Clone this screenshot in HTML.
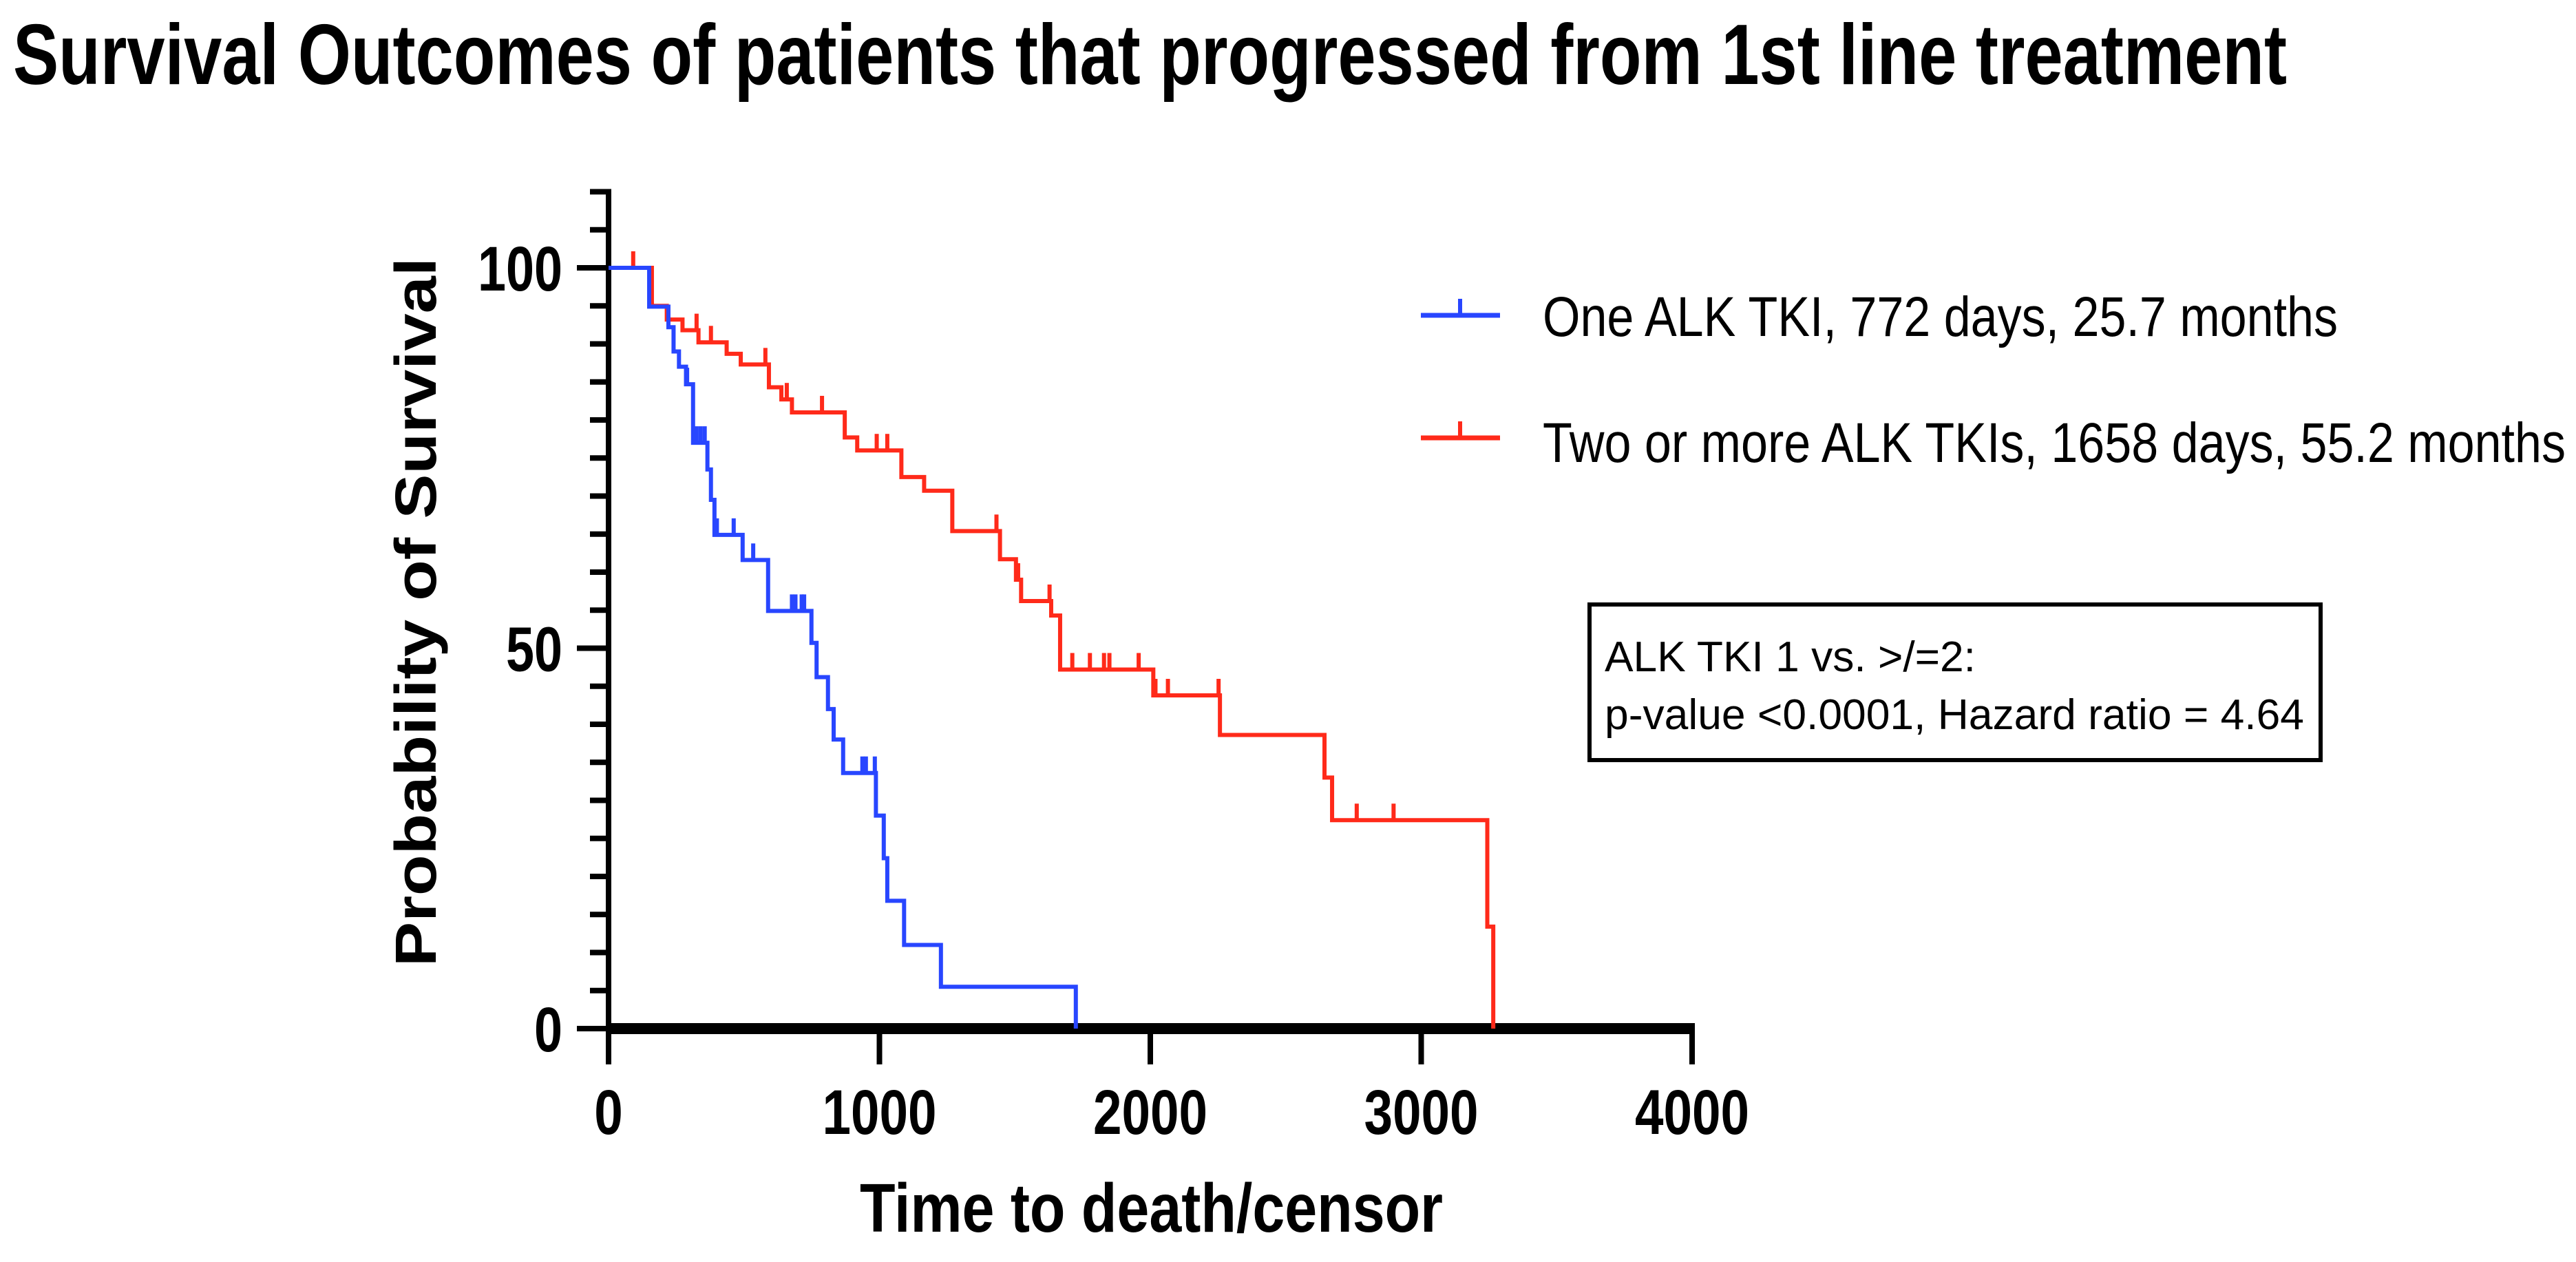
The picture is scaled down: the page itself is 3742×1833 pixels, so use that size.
<!DOCTYPE html>
<html><head><meta charset="utf-8"><style>
html,body{margin:0;padding:0;background:#fff;}
svg{display:block;}
text{font-family:"Liberation Sans",Arial,sans-serif;}
</style></head><body>
<svg id="chart" width="3742" height="1833" viewBox="0 0 3742 1833" xmlns="http://www.w3.org/2000/svg">
<rect width="3742" height="1833" fill="#fff"/>
<text x="19" y="122" font-size="124" font-weight="bold" textLength="3303" lengthAdjust="spacingAndGlyphs">Survival Outcomes of patients that progressed from 1st line treatment</text>
<text transform="translate(633,1404) rotate(-90)" font-size="84" font-weight="bold" textLength="1030" lengthAdjust="spacingAndGlyphs">Probability of Survival</text>
<text x="1249" y="1789" font-size="100" font-weight="bold" textLength="847" lengthAdjust="spacingAndGlyphs">Time to death/censor</text>
<g id="axes"></g>
<g id="series"></g>
<g>
<g>
<line x1="2064" y1="458" x2="2179" y2="458" stroke="#2846ff" stroke-width="7"/>
<line x1="2121" y1="458" x2="2121" y2="434" stroke="#2846ff" stroke-width="6"/>
<text x="2241" y="488" font-size="82" textLength="1155" lengthAdjust="spacingAndGlyphs">One ALK TKI, 772 days, 25.7 months</text>
</g>
<g>
<line x1="2064" y1="636" x2="2179" y2="636" stroke="#ff2a1a" stroke-width="7"/>
<line x1="2121" y1="636" x2="2121" y2="612" stroke="#ff2a1a" stroke-width="6"/>
<text x="2241" y="671" font-size="82" textLength="1486" lengthAdjust="spacingAndGlyphs">Two or more ALK TKIs, 1658 days, 55.2 months</text>
</g>
</g>
<g>
<rect x="2309" y="878" width="1062" height="226" fill="#fff" stroke="#000" stroke-width="6"/>
<text x="2331" y="975" font-size="62" textLength="539" lengthAdjust="spacingAndGlyphs">ALK TKI 1 vs. &gt;/=2:</text>
<text x="2331" y="1059" font-size="62" textLength="1016" lengthAdjust="spacingAndGlyphs">p-value &lt;0.0001, Hazard ratio = 4.64</text>
</g>
</svg>
<script>
const xTicks = [0, 1000, 2000, 3000, 4000];
const yTicks = [0, 50, 100];
const blueTimes = [0,150,221,240,260,286,312,365,378,391,495,589,749,768,810,831,866,987,1016,1029,1091,1227,1725];
const blueSurv = [100,94.9,92.2,89,87,84.7,77,73.5,69.5,64.9,61.6,54.9,50.7,46.2,42,38,33.6,28,22.4,16.8,11,5.5,0];
const blueCensorT = [290,325,340,355,400,462,534,677,690,713,722,937,950,983];
const redTimes = [0,160,215,273,332,436,488,592,638,677,872,918,1081,1165,1269,1445,1504,1523,1634,1667,2011,2257,2643,2671,3244,3266];
const redSurv = [100,95,93.2,91.8,90.2,88.7,87.3,84.3,82.7,81,77.7,76,72.5,70.7,65.4,61.7,59,56.2,54.3,47.2,43.8,38.6,33,27.4,13.4,0];
const redCensorT = [91,325,378,579,658,788,990,1029,1432,1512,1628,1712,1777,1829,1849,1957,2019,2065,2252,2762,2898];

const X0=884, X1=2458, Y0=1494, Y100=389;
function xs(t){return X0+(X1-X0)*t/4000;}
function ys(s){return Y0+(Y100-Y0)*s/100;}
function survAt(times,surv,t){let s=surv[0];for(let i=0;i<times.length;i++){if(times[i]<=t)s=surv[i];}return s;}
const NS="http://www.w3.org/2000/svg";
function mk(tag,attrs,parent){const e=document.createElementNS(NS,tag);for(const k in attrs)e.setAttribute(k,attrs[k]);parent.appendChild(e);return e;}
const axes=document.getElementById('axes');
const series=document.getElementById('series');

// y axis
const ya=mk('line',{x1:X0,y1:ys(110)-4,x2:X0,y2:Y0,stroke:'#000','stroke-width':8},axes);


for(let v=0;v<=110;v+=5){
  const major=(v%50===0);
  const t=mk('line',{x1:major?838:857,y1:ys(v),x2:X0,y2:ys(v),stroke:'#000','stroke-width':8},axes);
  
  
}
yTicks.forEach(v=>{
  const lbl=String(v);
  const w=lbl.length*41;
  const tx=mk('text',{x:817,y:ys(v)+33,'font-size':92,'font-weight':'bold','text-anchor':'end',textLength:w,lengthAdjust:'spacingAndGlyphs'},axes);
  tx.textContent=lbl;
  
  
});
// x axis
const xa=mk('line',{x1:X0-4,y1:Y0,x2:X1+4,y2:Y0,stroke:'#000','stroke-width':16},axes);


xTicks.forEach(v=>{
  const t=mk('line',{x1:xs(v),y1:Y0,x2:xs(v),y2:1546,stroke:'#000','stroke-width':8},axes);
  
  
  const lbl=String(v);
  const tx=mk('text',{x:xs(v),y:1647,'font-size':92,'font-weight':'bold','text-anchor':'middle',textLength:lbl.length*41.5,lengthAdjust:'spacingAndGlyphs'},axes);
  tx.textContent=lbl;
  
  
});

function drawKM(times,surv,censor,color,name){
  let d='M'+xs(times[0])+','+ys(surv[0]);
  for(let i=1;i<times.length;i++){d+=' H'+xs(times[i])+' V'+ys(surv[i]);}
  const p=mk('path',{d:d,fill:'none',stroke:color,'stroke-width':6},series);
  
  
  censor.forEach(t=>{
    const s=survAt(times,surv,t);
    const c=mk('line',{x1:xs(t),y1:ys(s),x2:xs(t),y2:ys(s)-24,stroke:color,'stroke-width':6},series);
    
    
  });
}
drawKM(redTimes,redSurv,redCensorT,'#ff2a1a','two-or-more-tki');
drawKM(blueTimes,blueSurv,blueCensorT,'#2846ff','one-tki');
</script>
</body></html>
